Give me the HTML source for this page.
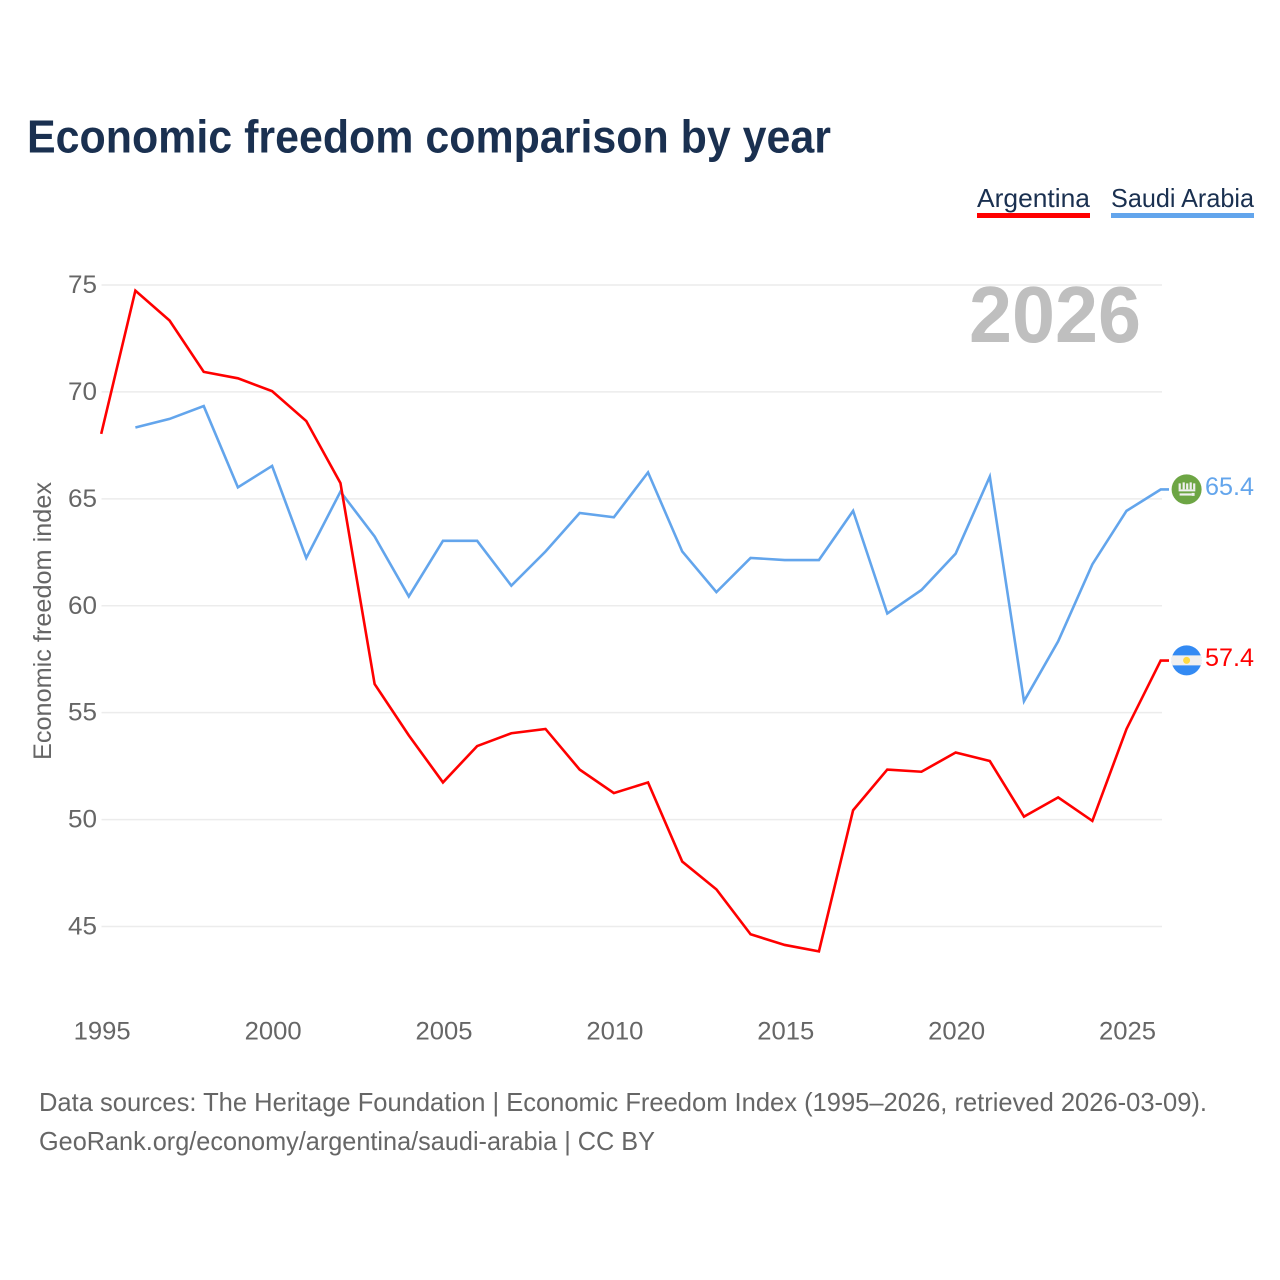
<!DOCTYPE html>
<html lang="en">
<head>
<meta charset="utf-8">
<title>Economic freedom comparison by year</title>
<style>
html,body{margin:0;padding:0;background:#fff;width:1280px;height:1280px;overflow:hidden}
svg{display:block;font-family:"Liberation Sans",sans-serif}
</style>
</head>
<body>
<svg id="chart" width="1280" height="1280" viewBox="0 0 1280 1280" xmlns="http://www.w3.org/2000/svg">
  <rect width="1280" height="1280" fill="#fff"/>
  <text x="27" y="152.5" font-size="46" font-weight="700" fill="#1a3050" textLength="804" lengthAdjust="spacingAndGlyphs">Economic freedom comparison by year</text>
  <g>
    <text x="977" y="207" font-size="26" fill="#1a3050" textLength="113" lengthAdjust="spacingAndGlyphs">Argentina</text>
    <rect x="977" y="213" width="113" height="5" fill="#ff0000"/>
  </g>
  <g>
    <text x="1111" y="207" font-size="26" fill="#1a3050" textLength="143" lengthAdjust="spacingAndGlyphs">Saudi Arabia</text>
    <rect x="1111" y="213" width="143" height="5" fill="#63a5ec"/>
  </g>
  <g id="grid"></g>
  <g id="yticks"></g>
  <g id="xticks"></g>
  <text x="969" y="342" font-size="80" font-weight="700" fill="#bfbfbf" textLength="172" lengthAdjust="spacingAndGlyphs">2026</text>
  <text transform="translate(51,621) rotate(-90)" text-anchor="middle" font-size="25" fill="#666" textLength="278" lengthAdjust="spacingAndGlyphs">Economic freedom index</text>
  <g id="series"></g>
  <g id="saudi-flag">
    <circle cx="0" cy="0" r="15" fill="#6da544"/>
    <rect x="-8" y="-6" width="2.2" height="6" fill="#f0f0f0"/>
    <rect x="-4" y="-7" width="2.2" height="7" fill="#f0f0f0"/>
    <rect x="-0.5" y="-6" width="2.2" height="6" fill="#f0f0f0"/>
    <rect x="3" y="-7" width="2.2" height="7" fill="#f0f0f0"/>
    <rect x="6.5" y="-6" width="2.2" height="6" fill="#f0f0f0"/>
    <rect x="-8" y="0" width="16.7" height="2" fill="#f0f0f0"/>
    <rect x="-7" y="4" width="12" height="2.2" fill="#f0f0f0"/>
    <rect x="5" y="3.5" width="3" height="3" fill="#f0f0f0"/>
  </g>
  <g id="arg-flag">
    <circle cx="0" cy="0" r="15" fill="#338af3"/>
    <path d="M-14.2 -5H14.2A15 15 0 0 1 14.2 5H-14.2A15 15 0 0 1 -14.2 -5Z" fill="#f0f0f0"/>
    <circle cx="0" cy="0" r="3.5" fill="#ffda44"/>
  </g>
  <text id="saudi-value" x="1205" font-size="25" fill="#63a5ec" textLength="49" lengthAdjust="spacingAndGlyphs"></text>
  <text id="arg-value" x="1205" font-size="25" fill="#ff0000" textLength="49" lengthAdjust="spacingAndGlyphs"></text>
  <text x="39" y="1111" font-size="26" fill="#666" textLength="1168" lengthAdjust="spacingAndGlyphs">Data sources: The Heritage Foundation | Economic Freedom Index (1995–2026, retrieved 2026-03-09).</text>
  <text x="39" y="1150" font-size="26" fill="#666" textLength="616" lengthAdjust="spacingAndGlyphs">GeoRank.org/economy/argentina/saudi-arabia | CC BY</text>
</svg>
<script>
const argentinaYears = [1995,1996,1997,1998,1999,2000,2001,2002,2003,2004,2005,2006,2007,2008,2009,2010,2011,2012,2013,2014,2015,2016,2017,2018,2019,2020,2021,2022,2023,2024,2025,2026];
const argentinaValues = [68.0,74.7,73.3,70.9,70.6,70.0,68.6,65.7,56.3,53.9,51.7,53.4,54.0,54.2,52.3,51.2,51.7,48.0,46.7,44.6,44.1,43.8,50.4,52.3,52.2,53.1,52.7,50.1,51.0,49.9,54.2,57.4];
const saudiYears = [1996,1997,1998,1999,2000,2001,2002,2003,2004,2005,2006,2007,2008,2009,2010,2011,2012,2013,2014,2015,2016,2017,2018,2019,2020,2021,2022,2023,2024,2025,2026];
const saudiValues = [68.3,68.7,69.3,65.5,66.5,62.2,65.3,63.2,60.4,63.0,63.0,60.9,62.5,64.3,64.1,66.2,62.5,60.6,62.2,62.1,62.1,64.4,59.6,60.7,62.4,66.0,55.5,58.3,61.9,64.4,65.4];
const yTickLabels = [45,50,55,60,65,70,75];
const xTickLabels = [1995,2000,2005,2010,2015,2020,2025];

const NS = 'http://www.w3.org/2000/svg';
const xScale = year => 101.5 + (year - 1995) * (1161 - 101.5) / 31;
const yScale = value => 285 + (75 - value) * (926.5 - 285) / 30;
const lineY = value => yScale(value) - 0.8;

function make(tag, attrs, parent, text) {
  const el = document.createElementNS(NS, tag);
  for (const k in attrs) el.setAttribute(k, attrs[k]);
  if (text !== undefined) el.textContent = text;
  parent.appendChild(el);
  return el;
}

const grid = document.getElementById('grid');
const yticks = document.getElementById('yticks');
const xticks = document.getElementById('xticks');
const series = document.getElementById('series');

yTickLabels.forEach(v => {
  const line = make('line', {x1: 101.5, x2: 1162, y1: yScale(v), y2: yScale(v), stroke: '#ececec', 'stroke-width': 1.5}, grid);
  
  
  const label = make('text', {x: 97, y: yScale(v) + 8, 'text-anchor': 'end', 'font-size': 25, fill: '#666', textLength: 29, lengthAdjust: 'spacingAndGlyphs'}, yticks, String(v));
  
  
});

xTickLabels.forEach(y => {
  const label = make('text', {x: xScale(y) + 0.7, y: 1039.5, 'text-anchor': 'middle', 'font-size': 25, fill: '#666', textLength: 57, lengthAdjust: 'spacingAndGlyphs'}, xticks, String(y));
  
  
});

function pathFor(years, values) {
  const pts = years.map((y, i) => (xScale(y) - 0.3).toFixed(2) + ' ' + lineY(values[i]).toFixed(2));
  const lastY = lineY(values[values.length - 1]).toFixed(2);
  return 'M' + pts.join('L') + 'L1169 ' + lastY;
}

const saudiLine = make('path', {d: pathFor(saudiYears, saudiValues), fill: 'none', stroke: '#63a5ec', 'stroke-width': 2.6, 'stroke-linejoin': 'miter'}, series);


const argLine = make('path', {d: pathFor(argentinaYears, argentinaValues), fill: 'none', stroke: '#ff0000', 'stroke-width': 2.6, 'stroke-linejoin': 'miter'}, series);



const saudiLast = saudiValues[saudiValues.length - 1];
const argLast = argentinaValues[argentinaValues.length - 1];
document.getElementById('saudi-flag').setAttribute('transform', 'translate(1186.6,' + (yScale(saudiLast) - 0.9) + ')');
document.getElementById('arg-flag').setAttribute('transform', 'translate(1186.6,' + (yScale(argLast) - 1) + ')');
const sv = document.getElementById('saudi-value');
sv.setAttribute('y', yScale(saudiLast) + 4.5);
sv.textContent = saudiLast.toFixed(1);
const av = document.getElementById('arg-value');
av.setAttribute('y', yScale(argLast) + 4.5);
av.textContent = argLast.toFixed(1);
</script>
</body>
</html>
